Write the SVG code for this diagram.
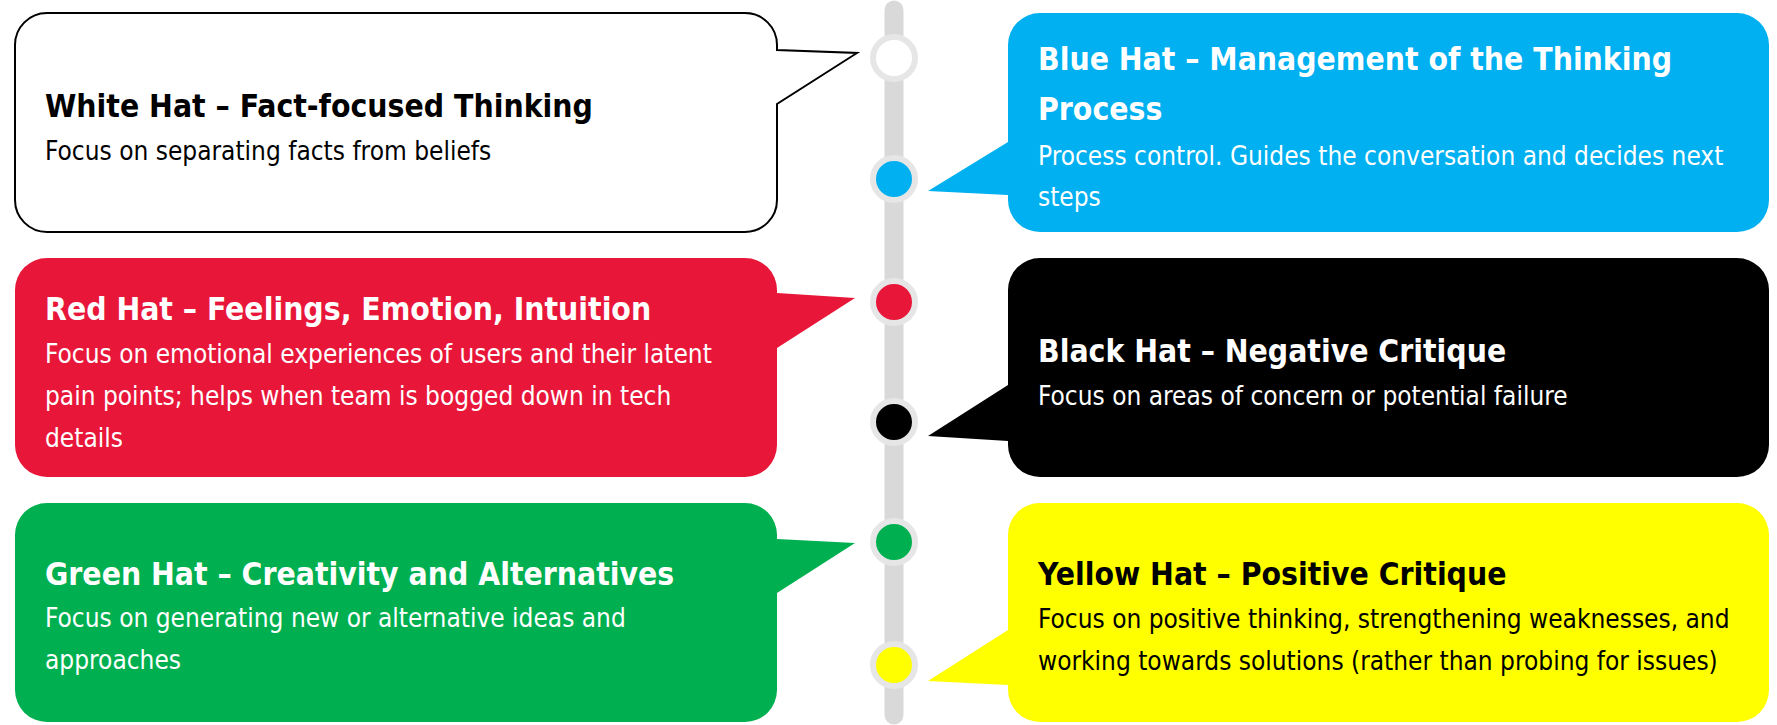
<svg xmlns="http://www.w3.org/2000/svg" width="1777" height="725" viewBox="0 0 1777 725">
<style>
.t{font-family:"DejaVu Sans Condensed","DejaVu Sans",sans-serif;font-weight:bold;font-size:31.6px}
.b{font-family:"DejaVu Sans Condensed","DejaVu Sans",sans-serif;font-size:26px}
.w{fill:#fff}.k{fill:#000}
.ring{stroke:#E6E6E6;stroke-width:6}
</style>
<rect width="1777" height="725" fill="#fff"/>
<g id="connectors">
<line x1="894" y1="10" x2="894" y2="715" stroke="#D9D9D9" stroke-width="19" stroke-linecap="round"/>
<circle class="ring" cx="894" cy="58" r="21" fill="#fff"/>
<circle class="ring" cx="894" cy="179" r="21" fill="#00B0F0"/>
<circle class="ring" cx="894" cy="302" r="21" fill="#E8173A"/>
<circle class="ring" cx="894" cy="422" r="21" fill="#000"/>
<circle class="ring" cx="894" cy="542" r="21" fill="#00B050"/>
<circle class="ring" cx="894" cy="665" r="21" fill="#FFFF00"/>
</g>
<g id="white-hat">
<path d="M47,13 H745 A32,32 0 0 1 777,45 V50 L857,53 L777,104 V200 A32,32 0 0 1 745,232 H47 A32,32 0 0 1 15,200 V45 A32,32 0 0 1 47,13 Z" fill="#fff" stroke="#000" stroke-width="2"/>
<text class="t k" x="45" y="117">White Hat – Fact-focused Thinking</text>
<text class="b k" x="45" y="160">Focus on separating facts from beliefs</text>
</g>
<g id="blue-hat">
<path d="M1040,13 H1737 A32,32 0 0 1 1769,45 V200 A32,32 0 0 1 1737,232 H1040 A32,32 0 0 1 1008,200 V195 L928,191 L1008,142 V45 A32,32 0 0 1 1040,13 Z" fill="#00B0F0"/>
<text class="t w" x="1038" y="70">Blue Hat – Management of the Thinking</text>
<text class="t w" x="1038" y="120">Process</text>
<text class="b w" x="1038" y="165">Process control. Guides the conversation and decides next</text>
<text class="b w" x="1038" y="206">steps</text>
</g>
<g id="red-hat">
<path d="M47,258 H745 A32,32 0 0 1 777,290 V293 L855,298 L777,348 V445 A32,32 0 0 1 745,477 H47 A32,32 0 0 1 15,445 V290 A32,32 0 0 1 47,258 Z" fill="#E8173A"/>
<text class="t w" x="45" y="320">Red Hat – Feelings, Emotion, Intuition</text>
<text class="b w" x="45" y="363">Focus on emotional experiences of users and their latent</text>
<text class="b w" x="45" y="405">pain points; helps when team is bogged down in tech</text>
<text class="b w" x="45" y="447">details</text>
</g>
<g id="black-hat">
<path d="M1040,258 H1737 A32,32 0 0 1 1769,290 V445 A32,32 0 0 1 1737,477 H1040 A32,32 0 0 1 1008,445 V441 L928,436 L1008,385 V290 A32,32 0 0 1 1040,258 Z" fill="#000"/>
<text class="t w" x="1038" y="362">Black Hat – Negative Critique</text>
<text class="b w" x="1038" y="405">Focus on areas of concern or potential failure</text>
</g>
<g id="green-hat">
<path d="M47,503 H745 A32,32 0 0 1 777,535 V539 L855,543 L777,593 V690 A32,32 0 0 1 745,722 H47 A32,32 0 0 1 15,690 V535 A32,32 0 0 1 47,503 Z" fill="#00B050"/>
<text class="t w" x="45" y="585">Green Hat – Creativity and Alternatives</text>
<text class="b w" x="45" y="627">Focus on generating new or alternative ideas and</text>
<text class="b w" x="45" y="669">approaches</text>
</g>
<g id="yellow-hat">
<path d="M1040,503 H1737 A32,32 0 0 1 1769,535 V690 A32,32 0 0 1 1737,722 H1040 A32,32 0 0 1 1008,690 V685 L928,681 L1008,630 V535 A32,32 0 0 1 1040,503 Z" fill="#FFFF00"/>
<text class="t k" x="1038" y="585">Yellow Hat – Positive Critique</text>
<text class="b k" x="1038" y="628">Focus on positive thinking, strengthening weaknesses, and</text>
<text class="b k" x="1038" y="670">working towards solutions (rather than probing for issues)</text>
</g>
</svg>
